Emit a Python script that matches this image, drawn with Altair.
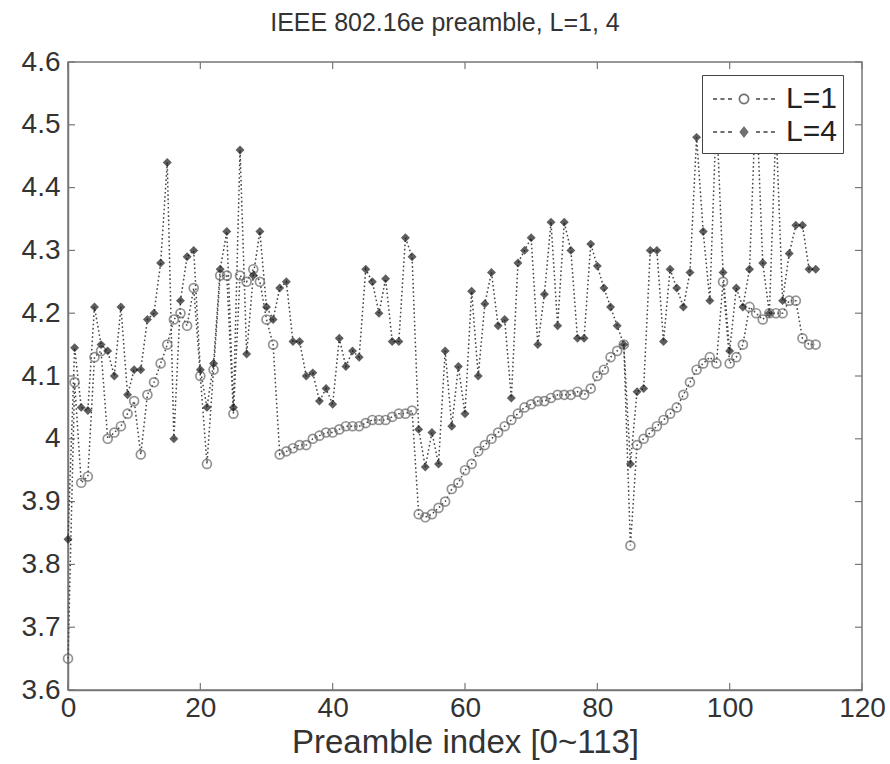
import altair as alt
import pandas as pd

# ---------------- data ----------------
idx = list(range(114))

l1 = [
    3.65, 4.09, 3.93, 3.94, 4.13, 4.14, 4.00, 4.01, 4.02, 4.04,
    4.06, 3.975, 4.07, 4.09, 4.12, 4.15, 4.19, 4.20, 4.18, 4.24,
    4.10, 3.96, 4.11, 4.26, 4.26, 4.04, 4.26, 4.25, 4.27, 4.25,
    4.19, 4.15, 3.975, 3.98, 3.985, 3.99, 3.99, 4.00, 4.005, 4.01,
    4.01, 4.015, 4.02, 4.02, 4.02, 4.025, 4.03, 4.03, 4.03, 4.035,
    4.04, 4.04, 4.045, 3.88, 3.875, 3.88, 3.89, 3.90, 3.92, 3.93,
    3.95, 3.96, 3.98, 3.99, 4.00, 4.01, 4.02, 4.03, 4.04, 4.05,
    4.055, 4.06, 4.06, 4.065, 4.07, 4.07, 4.07, 4.075, 4.07, 4.08,
    4.10, 4.11, 4.13, 4.14, 4.15, 3.83, 3.99, 4.00, 4.01, 4.02,
    4.03, 4.04, 4.05, 4.07, 4.09, 4.11, 4.12, 4.13, 4.12, 4.25,
    4.12, 4.13, 4.15, 4.21, 4.20, 4.19, 4.20, 4.20, 4.20, 4.22,
    4.22, 4.16, 4.15, 4.15,
]

l4 = [
    3.84, 4.145, 4.05, 4.045, 4.21, 4.15, 4.14, 4.10, 4.21, 4.07,
    4.11, 4.11, 4.19, 4.20, 4.28, 4.44, 4.00, 4.22, 4.29, 4.30,
    4.11, 4.05, 4.12, 4.27, 4.33, 4.05, 4.46, 4.135, 4.26, 4.33,
    4.21, 4.19, 4.24, 4.25, 4.155, 4.155, 4.10, 4.105, 4.06, 4.08,
    4.055, 4.16, 4.115, 4.14, 4.13, 4.27, 4.25, 4.20, 4.255, 4.155,
    4.155, 4.32, 4.29, 4.015, 3.955, 4.01, 3.96, 4.14, 4.02, 4.115,
    4.04, 4.235, 4.10, 4.215, 4.265, 4.18, 4.19, 4.065, 4.28, 4.30,
    4.32, 4.15, 4.23, 4.345, 4.18, 4.345, 4.30, 4.16, 4.16, 4.31,
    4.275, 4.24, 4.21, 4.18, 4.15, 3.96, 4.075, 4.08, 4.30, 4.30,
    4.155, 4.27, 4.24, 4.21, 4.265, 4.48, 4.33, 4.22, 4.52, 4.265,
    4.14, 4.24, 4.21, 4.27, 4.55, 4.28, 4.20, 4.50, 4.22, 4.295,
    4.34, 4.34, 4.27, 4.27,
]

series_names = ["L=1", "L=4"]
x_ticks = [0, 20, 40, 60, 80, 100, 120]
y_ticks = [3.6, 3.7, 3.8, 3.9, 4.0, 4.1, 4.2, 4.3, 4.4, 4.5, 4.6]

title_text = "IEEE 802.16e preamble, L=1, 4"
x_title = "Preamble index [0~113]"

# ---------------- tables ----------------
rows = []
for name, vals in zip(series_names, [l1, l4]):
    for i, v in zip(idx, vals):
        rows.append({"idx": i, "val": v, "series": name})
df = pd.DataFrame(rows)
xt = pd.DataFrame({"t": x_ticks})
yt = pd.DataFrame({"t": y_ticks})

FONT = "Liberation Sans"
W, H = 794, 628

xscale = alt.Scale(domain=[0, 120], nice=False, zero=False)
yscale = alt.Scale(domain=[3.6, 4.6], nice=False, zero=False)

x_axis = alt.Axis(values=x_ticks, title=x_title, ticks=False, grid=False,
                  labelFont=FONT, labelFontSize=28, labelColor="#333",
                  labelPadding=4, titleFont=FONT, titleFontSize=33,
                  titleFontWeight="normal", titleColor="#333", titlePadding=4,
                  domainColor="#777", domainWidth=1.5, labelFlush=False)
y_axis = alt.Axis(values=y_ticks, title=None, ticks=False, grid=False, format=".1~f",
                  labelFont=FONT, labelFontSize=28, labelColor="#333",
                  labelPadding=8, domainColor="#777", domainWidth=1.5, labelFlush=False)

def X(field):
    return alt.X(field, type="quantitative", scale=xscale, axis=x_axis)

def Y(field):
    return alt.Y(field, type="quantitative", scale=yscale, axis=y_axis)

base = alt.Chart(df)

lines = base.mark_line(strokeDash=[1.6, 2.6], strokeWidth=1.5, color="#444").encode(
    x=X("idx"), y=Y("val"), detail="series:N"
)

pts1 = base.transform_filter(alt.datum.series == "L=1").mark_point(
    shape="circle", filled=False, size=80, strokeWidth=1.7, color="#666"
).encode(x=X("idx"), y=Y("val"))

pts4 = base.transform_filter(alt.datum.series == "L=4").mark_point(
    shape="diamond", filled=True, size=80, color="#1a1a1a"
).encode(x=X("idx"), y=Y("val"))

# legend symbols: dotted line + marker drawn as filled paths (unit = 18 px)
dashes = ("M-1.72,-0.05H-1.5V0.05H-1.72Z M-1.31,-0.05H-1.08V0.05H-1.31Z "
          "M-0.89,-0.05H-0.67V0.05H-0.89Z M0.67,-0.05H0.89V0.05H0.67Z "
          "M1.08,-0.05H1.31V0.05H1.08Z M1.5,-0.05H1.72V0.05H1.5Z ")
ring = ("M0.3,0A0.3,0.3 0 1 0 -0.3,0A0.3,0.3 0 1 0 0.3,0Z "
        "M0.21,0A0.21,0.21 0 1 1 -0.21,0A0.21,0.21 0 1 1 0.21,0Z")
diamond = "M0,-0.34L0.26,0L0,0.34L-0.26,0Z"
sym_paths = [dashes + ring, dashes + diamond]

legend_layer = base.transform_filter("datum.idx < 0").mark_point(
    filled=True, color="#333", size=1296
).encode(
    x=X("idx"), y=Y("val"),
    shape=alt.Shape("series:N", scale=alt.Scale(domain=series_names, range=sym_paths),
                    legend=alt.Legend(title=None, orient="none", legendX=634, legendY=13,
                                      fillColor="white", strokeColor="#444", padding=6,
                                      symbolSize=1296, symbolStrokeWidth=0, symbolOffset=18,
                                      labelFont=FONT, labelFontSize=30, labelColor="#222",
                                      labelOffset=24, rowPadding=-3, zindex=1))
)

# inward ticks on all four sides (MATLAB box)
tick_b = alt.Chart(xt).mark_rule(color="#777", strokeWidth=1.2).encode(
    x=X("t"), y=alt.value(H), y2=alt.value(H - 7))
tick_t = alt.Chart(xt).mark_rule(color="#777", strokeWidth=1.2).encode(
    x=X("t"), y=alt.value(0), y2=alt.value(7))
tick_l = alt.Chart(yt).mark_rule(color="#777", strokeWidth=1.2).encode(
    y=Y("t"), x=alt.value(0), x2=alt.value(7))
tick_r = alt.Chart(yt).mark_rule(color="#777", strokeWidth=1.2).encode(
    y=Y("t"), x=alt.value(W), x2=alt.value(W - 7))

chart = alt.layer(tick_b, tick_t, tick_l, tick_r, lines, pts1, pts4, legend_layer).properties(
    width=W, height=H,
    title=alt.TitleParams(title_text, font=FONT, fontSize=25, fontWeight="normal",
                          color="#333", offset=12, dx=-20, anchor="middle"),
    autosize=alt.AutoSizeParams(type="none"),
    padding={"left": 68, "top": 62, "right": 28, "bottom": 74},
    background="white",
).configure_view(stroke="#777", strokeWidth=1.5)

chart.save("out.html", embed_options={"renderer": "svg", "actions": False})
